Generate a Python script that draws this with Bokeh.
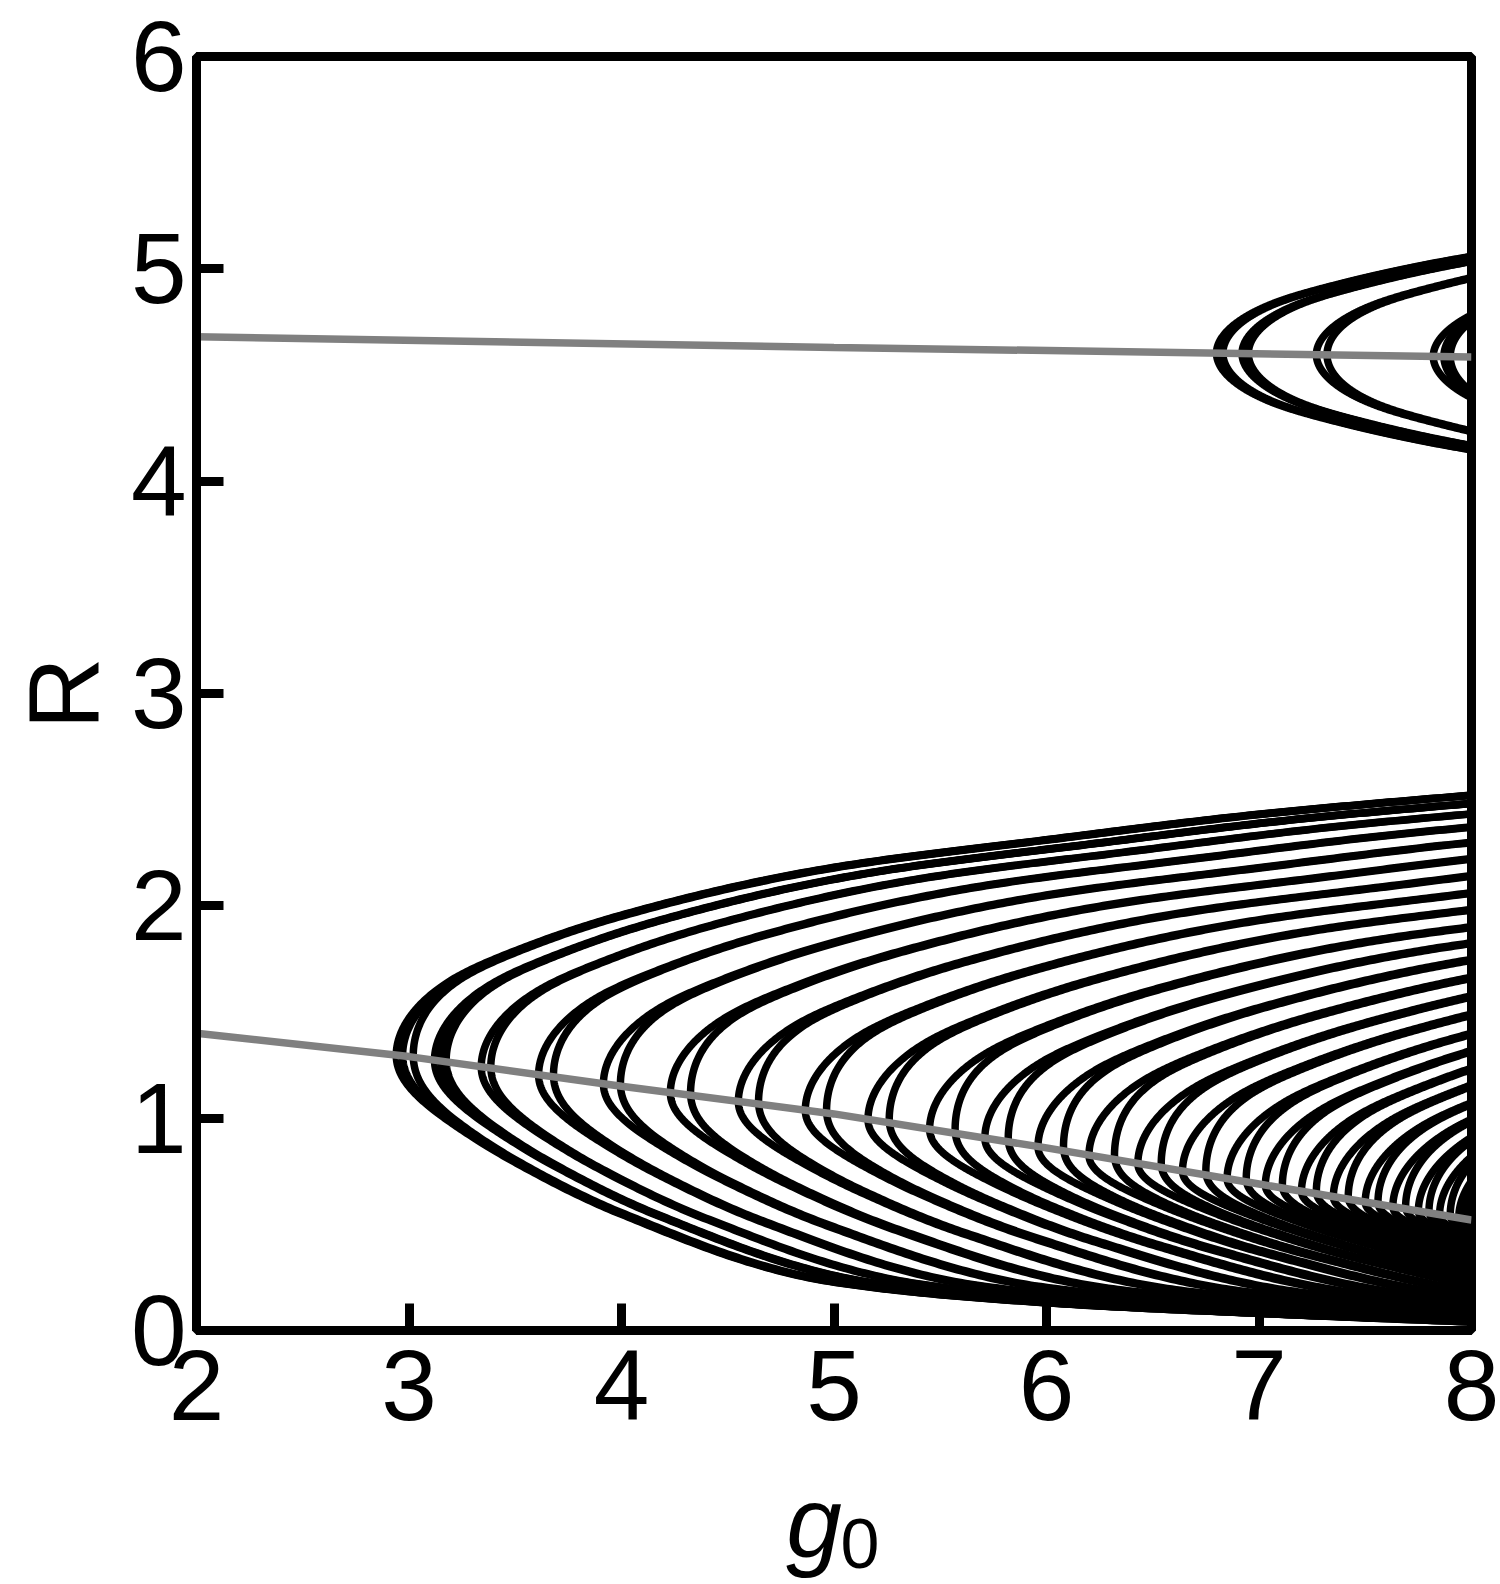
import numpy as np
from bokeh.plotting import figure
from bokeh.models import Range1d, FixedTicker, Title
from bokeh.embed import file_html
from bokeh.resources import INLINE

# ---------------- data ----------------
X_TICKS = [2, 3, 4, 5, 6, 7, 8]
Y_TICKS = [0, 1, 2, 3, 4, 5, 6]

# gray lines
GRAY_LO_G = [2.0, 3.0, 4.0, 5.0, 6.0, 7.0, 8.0]
GRAY_LO_R = [1.40, 1.29, 1.15, 1.02, 0.86, 0.69, 0.52]
GRAY_HI_G = [2.0, 5.0, 8.0]
GRAY_HI_R = [4.68, 4.63, 4.585]

# outermost curve of the lower family, read point by point
OUTER_G = [2.94, 3.2, 3.5, 4.0, 5.0, 6.0, 7.0, 8.0]
OUTER_UP = [1.295, 1.649, 1.787, 1.955, 2.18, 2.31, 2.43, 2.52]
OUTER_LO = [1.295, 0.976, 0.79, 0.546, 0.227, 0.13, 0.08, 0.04]

# nose positions (g0 of the leftmost point) of the lower family and the group
# each belongs to (curves of one group share their far branches)
LOWER_VERTEX_G = [2.94, 2.97, 3.02, 3.12, 3.15, 3.175, 3.34, 3.385, 3.61, 3.68,
                  3.915, 3.995, 4.23, 4.325, 4.55, 4.645, 4.865, 4.965, 5.16, 5.26,
                  5.45, 5.57, 5.71, 5.82, 5.96, 6.08, 6.2, 6.32, 6.43, 6.54,
                  6.64, 6.75, 6.85, 6.94, 7.03, 7.11, 7.2, 7.27, 7.35, 7.42,
                  7.5, 7.56, 7.63, 7.69, 7.75, 7.8, 7.85, 7.9, 7.94, 7.97]
LOWER_GROUP = [0, 0, 0, 1, 1, 1, 2, 2, 3, 3,
               4, 4, 5, 5, 6, 6, 7, 7, 8, 8,
               9, 9, 10, 10, 11, 11, 12, 12, 13, 13,
               14, 14, 15, 15, 16, 16, 17, 17, 18, 18,
               19, 19, 20, 20, 21, 21, 22, 22, 23, 23]

# upper family (around R ~ 4.6)
UPPER_VERTEX_G = [6.80, 6.83, 6.92, 6.95, 7.27, 7.32, 7.82, 7.87, 7.90]
UPPER_GROUP = [0, 0, 1, 1, 2, 2, 3, 3, 3]
UPPER_SPREAD = 0.80

KEEP = 0.25   # part of a nose offset that persists along the branches
S0 = 0.2      # decay of a nose offset along the curve parameter


def pchip(x, y, xn):
    x = np.asarray(x, float)
    y = np.asarray(y, float)
    xn = np.asarray(xn, float)
    h = np.diff(x)
    d = np.diff(y) / h
    n = len(x)
    m = np.zeros(n)
    for k in range(1, n - 1):
        if d[k - 1] * d[k] > 0:
            w1 = 2 * h[k] + h[k - 1]
            w2 = h[k] + 2 * h[k - 1]
            m[k] = (w1 + w2) / (w1 / d[k - 1] + w2 / d[k])
    m[0] = d[0]
    m[-1] = d[-1]
    idx = np.clip(np.searchsorted(x, xn) - 1, 0, n - 2)
    hk = h[idx]
    tt = (xn - x[idx]) / hk
    h00 = 2 * tt**3 - 3 * tt**2 + 1
    h10 = tt**3 - 2 * tt**2 + tt
    h01 = -2 * tt**3 + 3 * tt**2
    h11 = tt**3 - tt**2
    return h00 * y[idx] + h10 * hk * m[idx] + h01 * y[idx + 1] + h11 * hk * m[idx + 1]


G0 = OUTER_G[0]
R0 = OUTER_UP[0]
GS = OUTER_G[-1] - G0
A_UP = OUTER_UP[-1] - R0
SIG_K = np.sqrt((np.array(OUTER_G) - G0) / GS)
TU_K = (np.array(OUTER_UP) - R0) / A_UP
TL_K = (R0 - np.array(OUTER_LO)) / R0


def curve(g_base, dg, rv, a_up, a_lo, lo_tpl):
    s_end = min(np.sqrt(max(OUTER_G[-1] - g_base, 0.0) / GS) + 0.03, 1.02)
    sig = np.linspace(0.0, s_end, 260)
    g = g_base + GS * sig**2 + dg * (KEEP + (1 - KEEP) * np.exp(-(sig / S0) ** 2))
    ru = rv + a_up * pchip(SIG_K, TU_K, sig)
    rl = rv - a_lo * pchip(SIG_K, lo_tpl, sig)
    xs = np.concatenate([g[::-1], g[1:]])
    ys = np.concatenate([rl[::-1], ru[1:]])
    return xs, ys


xs_all, ys_all = [], []
base = {}
for gv, grp in zip(LOWER_VERTEX_G, LOWER_GROUP):
    gb = base.setdefault(grp, gv)
    rv = float(np.interp(gb, GRAY_LO_G, GRAY_LO_R))
    xs, ys = curve(gb, gv - gb, rv, A_UP, rv, TL_K)
    xs_all.append(xs)
    ys_all.append(ys)
base = {}
for gv, grp in zip(UPPER_VERTEX_G, UPPER_GROUP):
    gb = base.setdefault(grp, gv)
    rv = float(np.interp(gb, GRAY_HI_G, GRAY_HI_R))
    xs, ys = curve(gb, gv - gb, rv, UPPER_SPREAD, UPPER_SPREAD, TU_K)
    xs_all.append(xs)
    ys_all.append(ys)

# ---------------- figure ----------------
FONT = "Liberation Sans"
p = figure(frame_width=1275, frame_height=1274,
           x_range=Range1d(2, 8), y_range=Range1d(0, 6),
           output_backend="svg", toolbar_location=None,
           min_border_left=196, min_border_right=29, min_border_top=56, min_border_bottom=254)
p.background_fill_color = "white"
p.border_fill_color = "white"
p.grid.visible = False
p.outline_line_color = "black"
p.outline_line_width = 9
p.outline_line_alpha = 1.0

p.multi_line(xs_all, ys_all, line_color="black", line_width=7.5, line_join="round")
p.line(GRAY_LO_G, GRAY_LO_R, line_color="#808080", line_width=7.5)
p.line(GRAY_HI_G, GRAY_HI_R, line_color="#808080", line_width=7.5)

p.xaxis.ticker = FixedTicker(ticks=X_TICKS)
p.yaxis.ticker = FixedTicker(ticks=Y_TICKS)
for ax in (p.xaxis, p.yaxis):
    ax.axis_line_width = 9
    ax.axis_line_color = "black"
    ax.major_tick_line_width = 9
    ax.major_tick_line_color = "black"
    ax.major_tick_in = 27
    ax.major_tick_out = 0
    ax.minor_tick_in = 0
    ax.minor_tick_out = 0
    ax.major_label_text_font = FONT
    ax.major_label_text_font_size = "100px"
    ax.major_label_text_color = "black"
    ax.axis_label_text_font = FONT
    ax.axis_label_text_font_size = "100px"
    ax.axis_label_text_color = "black"
p.xaxis.major_label_standoff = 20
p.yaxis.major_label_standoff = 10

p.yaxis.axis_label = "R"
p.yaxis.axis_label_text_font_style = "normal"
p.yaxis.axis_label_standoff = 8

# italic g (thin spaces keep room for the subscript on its right)
p.xaxis.axis_label = "g\u2009\u2009"
p.xaxis.axis_label_text_font_style = "italic"
p.xaxis.axis_label_standoff = 43

# upright subscript 0 next to the g
p.add_layout(Title(text="0", align="left", offset=644, standoff=-123, vertical_align="top",
                   text_font=FONT, text_font_size="70px", text_font_style="normal",
                   text_color="black"), "below")

open("out.html", "w").write(file_html(p, INLINE))
